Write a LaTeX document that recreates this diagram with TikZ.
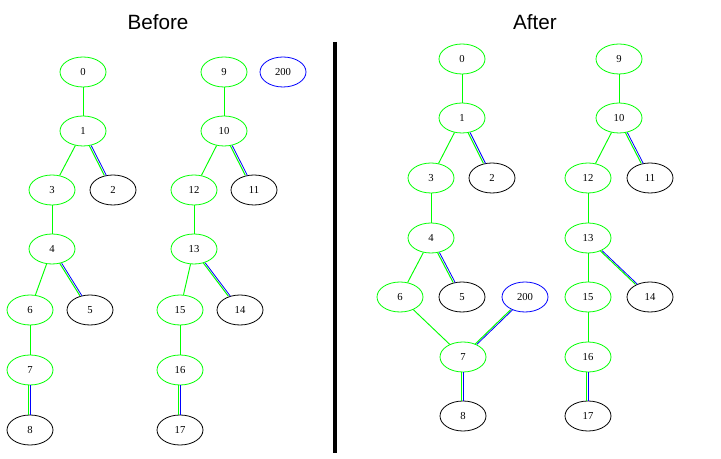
\documentclass[tikz,border=0pt]{standalone}
\usepackage{fontspec}
\setmainfont{Liberation Serif}
\newfontfamily\titlefont{Liberation Sans}
\usetikzlibrary{shapes.geometric}
\definecolor{gvgreen}{RGB}{0,255,0}
\definecolor{gvblue}{RGB}{0,0,255}
\tikzset{
  gnode/.style={ellipse,draw=gvgreen,line width=0.6pt,minimum width=34.5pt,minimum height=22.5pt,inner sep=0pt,font=\fontsize{8}{9}\selectfont},
  bnode/.style={gnode,draw=black},
  unode/.style={gnode,draw=gvblue},
  gedge/.style={draw=gvgreen,line width=0.7pt},
  title/.style={font=\titlefont\fontsize{15.5}{18}\selectfont}
}
\newcommand{\gb}[2]{%
  \path (#1) -- (#2) coordinate[pos=0] (#1#2s) coordinate[pos=1] (#1#2e);
  \draw[gvgreen,line width=0.75pt] ([xshift=-0.9pt]#1#2s) -- ([xshift=-0.9pt]#1#2e);
  \draw[gvblue,line width=0.6pt] ([xshift=0.6pt]#1#2s) -- ([xshift=0.6pt]#1#2e);}
\begin{document}
\begin{tikzpicture}[x=0.75pt,y=-0.75pt]
\useasboundingbox (0,0) rectangle (721,459);
\node[title] (tb) at (158,22) {Before};
\node[title] (ta) at (535,22) {After};
\coordinate (lt) at (335,42);
\coordinate (lb) at (335,453);
\draw[line width=3pt] (lt) -- (lb);
% Before
\node[gnode] (b0) at (83,72) {0};
\node[gnode] (b1) at (83,131) {1};
\node[gnode] (b3) at (52,190) {3};
\node[bnode] (b2) at (113,190) {2};
\node[gnode] (b4) at (52,249) {4};
\node[gnode] (b6) at (30,310) {6};
\node[bnode] (b5) at (90,310) {5};
\node[gnode] (b7) at (30,370) {7};
\node[bnode] (b8) at (30,430) {8};
\node[gnode] (b9) at (224,72) {9};
\node[unode] (b200) at (283,72) {200};
\node[gnode] (b10) at (224,131) {10};
\node[gnode] (b12) at (194,190) {12};
\node[bnode] (b11) at (254,190) {11};
\node[gnode] (b13) at (194,249) {13};
\node[gnode] (b15) at (180,310) {15};
\node[bnode] (b14) at (240,310) {14};
\node[gnode] (b16) at (180,370) {16};
\node[bnode] (b17) at (180,430) {17};
\draw[gedge] (b0) -- (b1);
\draw[gedge] (b1) -- (b3);
\gb{b1}{b2}
\draw[gedge] (b3) -- (b4);
\draw[gedge] (b4) -- (b6);
\gb{b4}{b5}
\draw[gedge] (b6) -- (b7);
\gb{b7}{b8}
\draw[gedge] (b9) -- (b10);
\draw[gedge] (b10) -- (b12);
\gb{b10}{b11}
\draw[gedge] (b12) -- (b13);
\draw[gedge] (b13) -- (b15);
\gb{b13}{b14}
\draw[gedge] (b15) -- (b16);
\gb{b16}{b17}
% After
\node[gnode] (a0) at (462,59) {0};
\node[gnode] (a1) at (462,118) {1};
\node[gnode] (a3) at (431,178) {3};
\node[bnode] (a2) at (492,178) {2};
\node[gnode] (a4) at (431,238) {4};
\node[gnode] (a6) at (400,297) {6};
\node[bnode] (a5) at (462,297) {5};
\node[unode] (a200) at (525,297) {200};
\node[gnode] (a7) at (463,357) {7};
\node[bnode] (a8) at (463,416) {8};
\node[gnode] (a9) at (619,59) {9};
\node[gnode] (a10) at (619,118) {10};
\node[gnode] (a12) at (588,178) {12};
\node[bnode] (a11) at (650,178) {11};
\node[gnode] (a13) at (588,238) {13};
\node[gnode] (a15) at (588,297) {15};
\node[bnode] (a14) at (650,297) {14};
\node[gnode] (a16) at (588,357) {16};
\node[bnode] (a17) at (588,416) {17};
\draw[gedge] (a0) -- (a1);
\draw[gedge] (a1) -- (a3);
\gb{a1}{a2}
\draw[gedge] (a3) -- (a4);
\draw[gedge] (a4) -- (a6);
\gb{a4}{a5}
\draw[gedge] (a6) -- (a7);
\gb{a200}{a7}
\gb{a7}{a8}
\draw[gedge] (a9) -- (a10);
\draw[gedge] (a10) -- (a12);
\gb{a10}{a11}
\draw[gedge] (a12) -- (a13);
\draw[gedge] (a13) -- (a15);
\gb{a13}{a14}
\draw[gedge] (a15) -- (a16);
\gb{a16}{a17}
\end{tikzpicture}
\end{document}
